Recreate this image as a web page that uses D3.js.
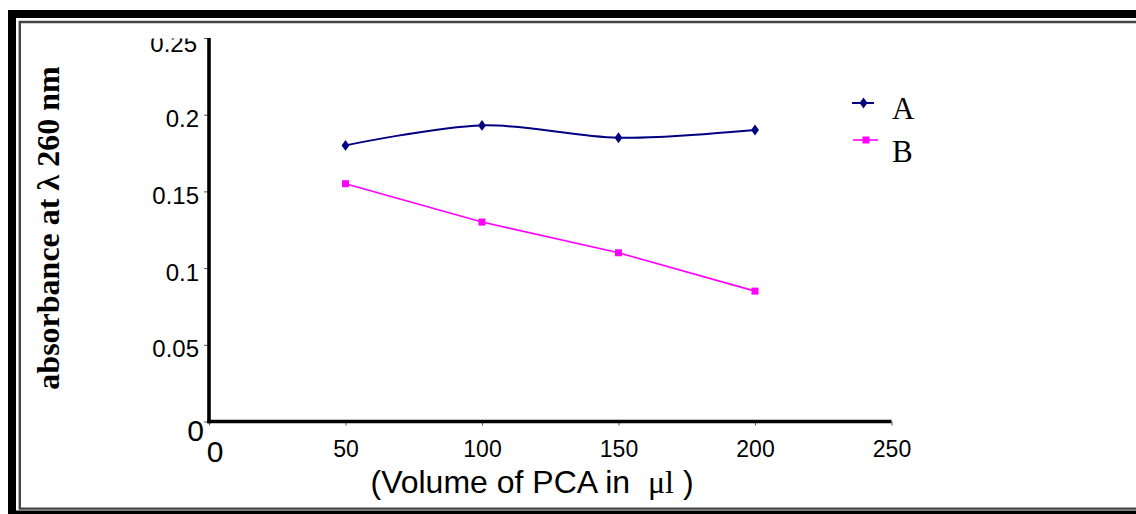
<!DOCTYPE html>
<html lang="en">
<head>
    <meta charset="UTF-8">
    <title>absorbance vs volume of PCA</title>
    <script src="https://d3js.org/d3.v7.min.js"></script>
    <style>
        *{
            margin: 0;
            padding: 0;
        }
        body{
            background: #fff;
        }
        .tick text{
            font-family: "Liberation Sans", Arial, sans-serif;
        }
    </style>
</head>
<body>
    <div id="content"></div>
    <script>
        // 数据
        var volumes = [50, 100, 150, 200];
        var seriesA = [0.180, 0.193, 0.185, 0.190];
        var seriesB = [0.155, 0.130, 0.110, 0.085];
        var seriesNames = ["A", "B"];
        var xTicks = [0, 50, 100, 150, 200, 250];
        var yTicks = [0, 0.05, 0.1, 0.15, 0.2, 0.25];
        var yTickLabels = ["0", "0.05", "0.1", "0.15", "0.2", "0.25"];

        var width = 1136;
        var height = 514;

        var svg = d3.select("#content")
                .append("svg")
                .attr("width", width).attr("height", height);

        /* 外框 */
        svg.append("rect").attr("x", 8).attr("y", 10)
                .attr("width", width).attr("height", 8).attr("fill", "#000");
        svg.append("rect").attr("x", 8).attr("y", 10)
                .attr("width", 8).attr("height", height).attr("fill", "#000");
        svg.append("rect").attr("x", 8).attr("y", 510.5)
                .attr("width", width).attr("height", 10).attr("fill", "#000");
        svg.append("path")
                .attr("d", "M" + width + ",22 H19.8 V508.6 H" + width)
                .attr("fill", "none").attr("stroke", "#444").attr("stroke-width", 2.4);

        /* 比例尺 */
        var xScale = d3.scaleLinear().domain([0, 250]).range([209, 891.5]);
        var yScale = d3.scaleLinear().domain([0, 0.25]).range([421.5, 38]);

        /* 坐标轴 */
        var xAxis = svg.append("g").attr("class", "axis")
                .attr("transform", "translate(0," + yScale(0) + ")")
                .call(d3.axisBottom(xScale).tickValues(xTicks).tickSize(4).tickSizeOuter(0));
        xAxis.select(".domain").remove();
        xAxis.selectAll(".tick line").attr("stroke", "#555").attr("stroke-width", 1);
        xAxis.selectAll(".tick text")
                .attr("fill", "#000")
                .attr("font-size", function(d){ return d === 0 ? "30px" : "23px"; })
                .attr("dx", function(d){ return d === 0 ? 5.5 : 0; })
                .attr("y", function(d){ return d === 0 ? 40.5 : 35.5; })
                .attr("dy", 0);

        // y轴 0.25 标签顶部被裁剪
        svg.append("clipPath").attr("id", "yclip")
                .append("rect").attr("x", 0).attr("y", 38.5).attr("width", 220).attr("height", 480);

        var yAxis = svg.append("g").attr("class", "axis")
                .attr("transform", "translate(" + xScale(0) + ",0)")
                .call(d3.axisLeft(yScale).tickValues(yTicks).tickSize(5).tickSizeOuter(0)
                        .tickFormat(function(d, i){ return yTickLabels[i]; }));
        yAxis.select(".domain").remove();
        yAxis.selectAll(".tick line").attr("stroke", "#555").attr("stroke-width", 1);
        yAxis.selectAll(".tick text")
                .attr("fill", "#000")
                .attr("font-size", function(d){ return d === 0 ? "30px" : "24px"; })
                .attr("x", function(d){ return d === 0 ? -5 : -10; })
                .attr("dy", 0)
                .attr("y", function(d){ return d === 0 ? 18.5 : 12; });
        yAxis.selectAll(".tick").filter(function(d){ return d === 0.25; })
                .select("text").remove();
        svg.append("g").attr("clip-path", "url(#yclip)")
                .append("text")
                .attr("x", xScale(0) - 12).attr("y", yScale(0.25) + 14)
                .attr("text-anchor", "end")
                .attr("font-family", "'Liberation Sans', Arial, sans-serif")
                .attr("font-size", "24px")
                .text(yTickLabels[5]);

        /* 轴线 */
        svg.append("line")
                .attr("x1", xScale(0)).attr("x2", xScale(0))
                .attr("y1", yScale(0.25)).attr("y2", yScale(0) + 1.8)
                .attr("stroke", "#000").attr("stroke-width", 3.6);
        svg.append("line")
                .attr("x1", xScale(0) - 1.8).attr("x2", xScale(250))
                .attr("y1", yScale(0)).attr("y2", yScale(0))
                .attr("stroke", "#000").attr("stroke-width", 3.6);

        /* 数据线 */
        var lineA = d3.line()
                .x(function(d, i){ return xScale(volumes[i]); })
                .y(function(d){ return yScale(d); })
                .curve(d3.curveCardinal.tension(0));
        var lineB = d3.line()
                .x(function(d, i){ return xScale(volumes[i]); })
                .y(function(d){ return yScale(d); });

        svg.append("path").attr("d", lineA(seriesA))
                .attr("fill", "none").attr("stroke", "#000080").attr("stroke-width", 2);
        svg.append("path").attr("d", lineB(seriesB))
                .attr("fill", "none").attr("stroke", "#FF00FF").attr("stroke-width", 1.6);

        var diamond = d3.symbol().type(d3.symbolDiamond).size(34);
        svg.selectAll(".ptA").data(seriesA).enter().append("path")
                .attr("class", "ptA")
                .attr("d", diamond)
                .attr("transform", function(d, i){
                    return "translate(" + xScale(volumes[i]) + "," + yScale(d) + ") scale(1.25,1)";
                })
                .attr("fill", "#000080");
        svg.selectAll(".ptB").data(seriesB).enter().append("rect")
                .attr("class", "ptB")
                .attr("x", function(d, i){ return xScale(volumes[i]) - 3.5; })
                .attr("y", function(d){ return yScale(d) - 3.5; })
                .attr("width", 7).attr("height", 7)
                .attr("fill", "#FF00FF");

        /* 图例 */
        var legend = svg.append("g").attr("transform", "translate(852,103)");
        legend.append("line").attr("x1", 0).attr("x2", 22).attr("y1", 0).attr("y2", 0)
                .attr("stroke", "#000080").attr("stroke-width", 2);
        legend.append("path").attr("d", diamond)
                .attr("transform", "translate(11.5,0) scale(1.25,1)").attr("fill", "#000080");
        legend.append("text").attr("x", 40).attr("y", 16)
                .attr("font-family", "'Liberation Serif', 'Times New Roman', serif")
                .attr("font-size", "31px").text(seriesNames[0]);

        var legendB = svg.append("g").attr("transform", "translate(853,140)");
        legendB.append("line").attr("x1", 0).attr("x2", 25).attr("y1", 0).attr("y2", 0)
                .attr("stroke", "#FF00FF").attr("stroke-width", 1.6);
        legendB.append("rect").attr("x", 9.5).attr("y", -3.5).attr("width", 7).attr("height", 7)
                .attr("fill", "#FF00FF");
        legendB.append("text").attr("x", 39).attr("y", 21.5)
                .attr("font-family", "'Liberation Serif', 'Times New Roman', serif")
                .attr("font-size", "31px").text(seriesNames[1]);

        /* 轴标题 */
        var xTitle = svg.append("text")
                .attr("x", 532).attr("y", 493)
                .attr("text-anchor", "middle")
                .attr("font-family", "'Liberation Sans', Arial, sans-serif")
                .attr("font-size", "32px");
        xTitle.append("tspan").text("(Volume of PCA in \u00a0");
        xTitle.append("tspan")
                .attr("font-family", "'Liberation Serif', 'Times New Roman', serif")
                .text("\u03bcl");
        xTitle.append("tspan").text(" )");

        svg.append("text")
                .attr("transform", "translate(59,228) rotate(-90)")
                .attr("text-anchor", "middle")
                .attr("font-family", "'Liberation Serif', 'Times New Roman', serif")
                .attr("font-weight", "bold")
                .attr("font-size", "32px")
                .text("absorbance at \u03bb 260 nm");
    </script>
</body>
</html>
